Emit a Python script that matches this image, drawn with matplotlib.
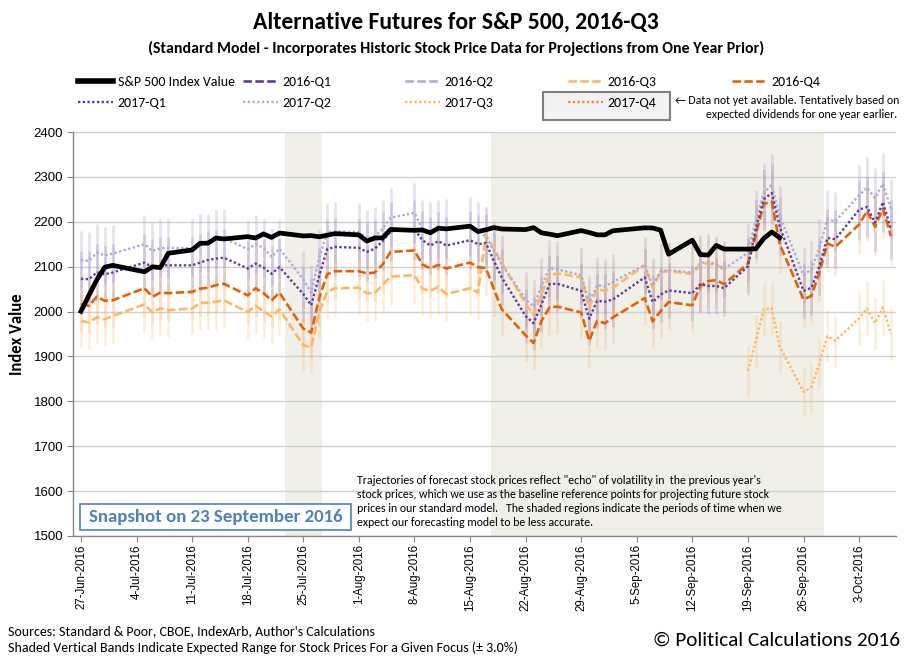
import matplotlib
matplotlib.use('Agg')
import matplotlib.pyplot as plt
import matplotlib.dates as mdates
from matplotlib.lines import Line2D
from matplotlib.patches import Rectangle
import numpy as np
import pandas as pd

# ---------------- data ----------------
dates = [
    '2016-06-27', '2016-06-28', '2016-06-29', '2016-06-30', '2016-07-01',
    '2016-07-05', '2016-07-06', '2016-07-07', '2016-07-08',
    '2016-07-11', '2016-07-12', '2016-07-13', '2016-07-14', '2016-07-15',
    '2016-07-18', '2016-07-19', '2016-07-20', '2016-07-21', '2016-07-22',
    '2016-07-25', '2016-07-26', '2016-07-27', '2016-07-28', '2016-07-29',
    '2016-08-01', '2016-08-02', '2016-08-03', '2016-08-04', '2016-08-05',
    '2016-08-08', '2016-08-09', '2016-08-10', '2016-08-11', '2016-08-12',
    '2016-08-15', '2016-08-16', '2016-08-17', '2016-08-18', '2016-08-19',
    '2016-08-22', '2016-08-23', '2016-08-24', '2016-08-25', '2016-08-26',
    '2016-08-29', '2016-08-30', '2016-08-31', '2016-09-01', '2016-09-02',
    '2016-09-06', '2016-09-07', '2016-09-08', '2016-09-09',
    '2016-09-12', '2016-09-13', '2016-09-14', '2016-09-15', '2016-09-16',
    '2016-09-19', '2016-09-20', '2016-09-21', '2016-09-22', '2016-09-23',
    '2016-09-26', '2016-09-27', '2016-09-28', '2016-09-29', '2016-09-30',
    '2016-10-03', '2016-10-04', '2016-10-05', '2016-10-06', '2016-10-07',
]

N = None
sp500 = [
    2000.5, 2036.1, 2070.8, 2098.9, 2102.9,
    2088.6, 2099.7, 2097.9, 2129.9,
    2137.2, 2152.1, 2152.4, 2163.8, 2161.7,
    2166.9, 2163.8, 2173.0, 2165.2, 2175.0,
    2168.5, 2169.2, 2166.6, 2170.1, 2173.6,
    2170.8, 2157.0, 2163.8, 2164.3, 2182.9,
    2180.9, 2181.7, 2175.5, 2185.8, 2184.1,
    2190.2, 2178.2, 2182.2, 2187.0, 2183.9,
    2182.6, 2186.9, 2175.4, 2172.5, 2169.0,
    2180.4, 2176.1, 2171.0, 2170.9, 2180.0,
    2186.5, 2186.2, 2181.3, 2127.8,
    2159.0, 2127.0, 2125.8, 2147.3, 2139.2,
    2139.1, 2139.8, 2163.1, 2177.2, 2164.7,
    N, N, N, N, N,
    N, N, N, N, N,
]

q3_2016 = [
    1979, 1976, 1987, 1983, 1990,
    2016, 1998, 2007, 2003,
    2007, 2019, 2020, 2022, 2025,
    1999, 2013, 2001, 1989, 2005,
    1925, 1920, 1998, 2044, 2052,
    2053, 2041, 2041, 2059, 2078,
    2081, 2051, 2046, 2055, 2039,
    2052, 2042, 2170, 2140, 2108,
    2018, 1993, 2039, 2081, 2085,
    2076, 2009, 2050, 2046, 2053,
    2103, 2053, 2088, 2090,
    2084, 2105, 2107, 2104, 2094,
    N, N, N, N, N,
    N, N, N, N, N,
    N, N, N, N, N,
]

q4_2016 = [
    2016, 2013, 2033, 2024, 2025,
    2052, 2033, 2042, 2041,
    2044, 2051, 2053, 2059, 2062,
    2036, 2052, 2041, 2025, 2042,
    1962, 1953, 2030, 2083, 2090,
    2090, 2085, 2087, 2105, 2133,
    2136, 2105, 2096, 2104, 2096,
    2109, 2099, 2097, 2050, 2005,
    1947, 1930, 1979, 2009, 2011,
    1998, 1935, 1979, 1974, 1987,
    2030, 1978, 2001, 2021,
    2014, 2057, 2068, 2070, 2061,
    2107, 2172, 2240, 2245, 2150,
    2027, 2035, 2087, 2152, 2144,
    2194, 2224, 2189, 2229, 2168,
]

q1_2017 = [
    2073, 2072, 2087, 2083, 2087,
    2109, 2099, 2103, 2103,
    2103, 2109, 2115, 2118, 2120,
    2096, 2107, 2098, 2084, 2099,
    2039, 2014, 2079, 2139, 2144,
    2142, 2133, 2140, 2157, 2179,
    2183, 2159, 2147, 2157, 2147,
    2159, 2150, 2153, 2113, 2076,
    1990, 1974, 2016, 2061, 2062,
    2046, 1984, 2024, 2022, 2027,
    2076, 2021, 2038, 2047,
    2041, 2061, 2057, 2057, 2052,
    2101, 2185, 2250, 2264, 2190,
    2046, 2053, 2101, 2164, 2161,
    2227, 2233, 2198, 2244, 2183,
]

q2_2017 = [
    2115, 2113, 2131, 2125, 2129,
    2150, 2135, 2141, 2142,
    2141, 2152, 2153, 2161, 2164,
    2139, 2150, 2142, 2122, 2140,
    2072, 2042, 2120, 2176, 2179,
    2177, 2162, 2168, 2184, 2209,
    2220, 2183, 2178, 2184, 2185,
    2190, 2179, 2168, 2135, 2105,
    2027, 2011, 2057, 2096, 2094,
    2081, 2020, 2059, 2056, 2066,
    2104, 2057, 2090, 2092,
    2087, 2108, 2110, 2106, 2095,
    2131, 2205, 2264, 2283, 2213,
    2081, 2094, 2142, 2205, 2201,
    2259, 2276, 2253, 2285, 2229,
]

q3_2017 = [
    N, N, N, N, N,
    N, N, N, N,
    N, N, N, N, N,
    N, N, N, N, N,
    N, N, N, N, N,
    N, N, N, N, N,
    N, N, N, N, N,
    N, N, N, N, N,
    N, N, N, N, N,
    N, N, N, N, N,
    N, N, N, N,
    N, N, N, N, N,
    1868, 1935, 2005, 2007, 1922,
    1821, 1832, 1885, 1945, 1935,
    1985, 2007, 1974, 2009, 1950,
]

band_range = 0.03
shaded_bands = [('2016-07-22 17:00', '2016-07-27 08:00'),
                ('2016-08-17 14:00', '2016-09-28 14:00')]
week_ticks = ['2016-06-27', '2016-07-04', '2016-07-11', '2016-07-18', '2016-07-25',
              '2016-08-01', '2016-08-08', '2016-08-15', '2016-08-22', '2016-08-29',
              '2016-09-05', '2016-09-12', '2016-09-19', '2016-09-26', '2016-10-03']
y_ticks = [1500, 1600, 1700, 1800, 1900, 2000, 2100, 2200, 2300, 2400]

# ---------------- styling ----------------
W, H = 911, 662
TXT = ['Carlito', 'Liberation Sans Narrow', 'Liberation Sans', 'DejaVu Sans']
plt.rcParams['font.family'] = TXT

C_DP = '#5e3c99'
C_LP = '#b2abd2'
C_LO = '#fdb863'
C_DO = '#e66101'

fig = plt.figure(figsize=(W / 100, H / 100), dpi=100)
ax = fig.add_axes([73 / W, 1 - 536 / H, (896 - 73) / W, (536 - 132) / H])

x = pd.to_datetime(dates)

def arr(v):
    return np.array([np.nan if a is None else a for a in v], dtype=float)

for a, b in shaded_bands:
    ax.axvspan(pd.Timestamp(a), pd.Timestamp(b), color='#f0efe8', zorder=0.2, lw=0)

# expected range bars (+/- 3%)
bar_specs = [
    (q3_2016, '#fdb863', 0.22),
    (q4_2016, '#f4a460', 0.2),
    (q3_2017, '#fdb863', 0.22),
    (q2_2017, '#b4a7d6', 0.32),
    (q1_2017, '#8e7cc3', 0.25),
]
for vals, col, al in bar_specs:
    v = arr(vals)
    m = ~np.isnan(v)
    ax.vlines(x[m], v[m] * (1 - band_range), v[m] * (1 + band_range),
              colors=col, alpha=al, lw=2.0, zorder=1.5)

dash = (3.2, 1.3)
dot = (1.0, 1.0)
ax.plot(x, arr(q3_2016), color=C_LO, lw=1.9, dashes=dash, zorder=3, label='2016-Q3')
ax.plot(x, arr(q4_2016), color=C_DO, lw=1.9, dashes=dash, zorder=3.2, label='2016-Q4')
ax.plot(x, arr(q2_2017), color=C_LP, lw=1.7, dashes=dot, zorder=3.1, label='2017-Q2')
ax.plot(x, arr(q1_2017), color=C_DP, lw=1.7, dashes=dot, zorder=3.3, label='2017-Q1')
ax.plot(x, arr(q3_2017), color=C_LO, lw=1.7, dashes=dot, zorder=3, label='2017-Q3')
ax.plot(x, arr(sp500), color='black', lw=3.4, zorder=4, solid_joinstyle='round',
        label='S&P 500 Index Value')

ax.set_xlim(pd.Timestamp('2016-06-26'), pd.Timestamp('2016-10-07 15:30'))
ax.set_ylim(1500, 2400)
ax.set_yticks(y_ticks)
ax.set_xticks(pd.to_datetime(week_ticks))
ax.xaxis.set_major_formatter(mdates.DateFormatter('%-d-%b-%Y'))
ax.tick_params(axis='x', rotation=90, labelsize=8.3, length=4, color='#868686', pad=2)
ax.tick_params(axis='y', labelsize=9.5, length=4, color='#868686', pad=3)
for lab in ax.get_yticklabels():
    lab.set_family(['Liberation Sans', 'DejaVu Sans'])
for lab in ax.get_xticklabels():
    lab.set_family(['Liberation Sans', 'DejaVu Sans'])
ax.grid(axis='y', color='#d0d0d0', lw=1.0)
ax.set_axisbelow(True)
for s in ['top', 'right']:
    ax.spines[s].set_visible(False)
for s in ['left', 'bottom']:
    ax.spines[s].set_color('#868686')
    ax.spines[s].set_linewidth(1.0)
ax.set_ylabel('Index Value', fontsize=12, fontweight='bold', labelpad=6)

# ---------------- titles ----------------
fig.text(456 / W, 1 - 22 / H, 'Alternative Futures for S&P 500, 2016-Q3',
         ha='center', va='center', fontsize=17, fontweight='bold')
fig.text(456 / W, 1 - 48 / H,
         '(Standard Model - Incorporates Historic Stock Price Data for Projections from One Year Prior)',
         ha='center', va='center', fontsize=11.4, fontweight='bold')

# ---------------- legend ----------------
fig.patches.append(Rectangle((543 / W, 1 - 120 / H), 127 / W, 28 / H,
                             transform=fig.transFigure, facecolor='#f2f2f2',
                             edgecolor='#7f7f7f', lw=1.5, zorder=0))
leg_entries = [
    ('S&P 500 Index Value', dict(color='black', lw=4), 78, 82),
    ('2016-Q1', dict(color=C_DP, lw=1.9, dashes=dash), 243, 82),
    ('2016-Q2', dict(color=C_LP, lw=1.9, dashes=dash), 405, 82),
    ('2016-Q3', dict(color=C_LO, lw=1.9, dashes=dash), 568, 82),
    ('2016-Q4', dict(color=C_DO, lw=1.9, dashes=dash), 732, 82),
    ('2017-Q1', dict(color=C_DP, lw=1.7, dashes=dot), 78, 103),
    ('2017-Q2', dict(color=C_LP, lw=1.7, dashes=dot), 243, 103),
    ('2017-Q3', dict(color=C_LO, lw=1.7, dashes=dot), 405, 103),
    ('2017-Q4', dict(color='#f08a4b', lw=1.7, dashes=dot), 568, 103),
]
for lab, kw, lx, ly in leg_entries:
    h = Line2D([], [], **kw)
    fig.legend(handles=[h], labels=[lab], loc='center left',
               bbox_to_anchor=(lx / W, 1 - ly / H), frameon=False,
               borderpad=0, borderaxespad=0, handlelength=2.5,
               handletextpad=0.35, fontsize=10)

fig.text(899 / W, 1 - 101 / H, '\u2190 Data not yet available. Tentatively based on',
         ha='right', va='center', fontsize=8.6)
fig.text(897 / W, 1 - 115 / H, 'expected dividends for one year earlier.',
         ha='right', va='center', fontsize=8.6)

# ---------------- annotations ----------------
fig.patches.append(Rectangle((80 / W, 1 - 530 / H), 271 / W, 26 / H,
                             transform=fig.transFigure, facecolor='white',
                             edgecolor='#4f81bd', lw=1.2, zorder=5))
fig.text(216 / W, 1 - 517 / H, 'Snapshot on 23 September 2016', ha='center', va='center',
         fontsize=13.6, fontweight='bold', color='#4f81bd', zorder=6)

note_lines = [
    'Trajectories of forecast stock prices reflect "echo" of volatility in  the previous year\'s',
    'stock prices, which we use as the baseline reference points for projecting future stock',
    'prices in our standard model.   The shaded regions indicate the periods of time when we',
    'expect our forecasting model to be less accurate.',
]
for i, ln in enumerate(note_lines):
    fig.text(357 / W, 1 - (481 + 14 * i) / H, ln, ha='left', va='center', fontsize=8.55)

fig.text(8 / W, 1 - 631 / H, "Sources: Standard & Poor, CBOE, IndexArb, Author's Calculations",
         ha='left', va='center', fontsize=10)
fig.text(8 / W, 1 - 648 / H,
         'Shaded Vertical Bands Indicate Expected Range for Stock Prices For a Given Focus (\u00b1 3.0%)',
         ha='left', va='center', fontsize=10)
fig.text(900 / W, 1 - 640 / H, '\u00a9 Political Calculations 2016', ha='right', va='center',
         fontsize=15.3)

fig.savefig('out.png', dpi=100)
